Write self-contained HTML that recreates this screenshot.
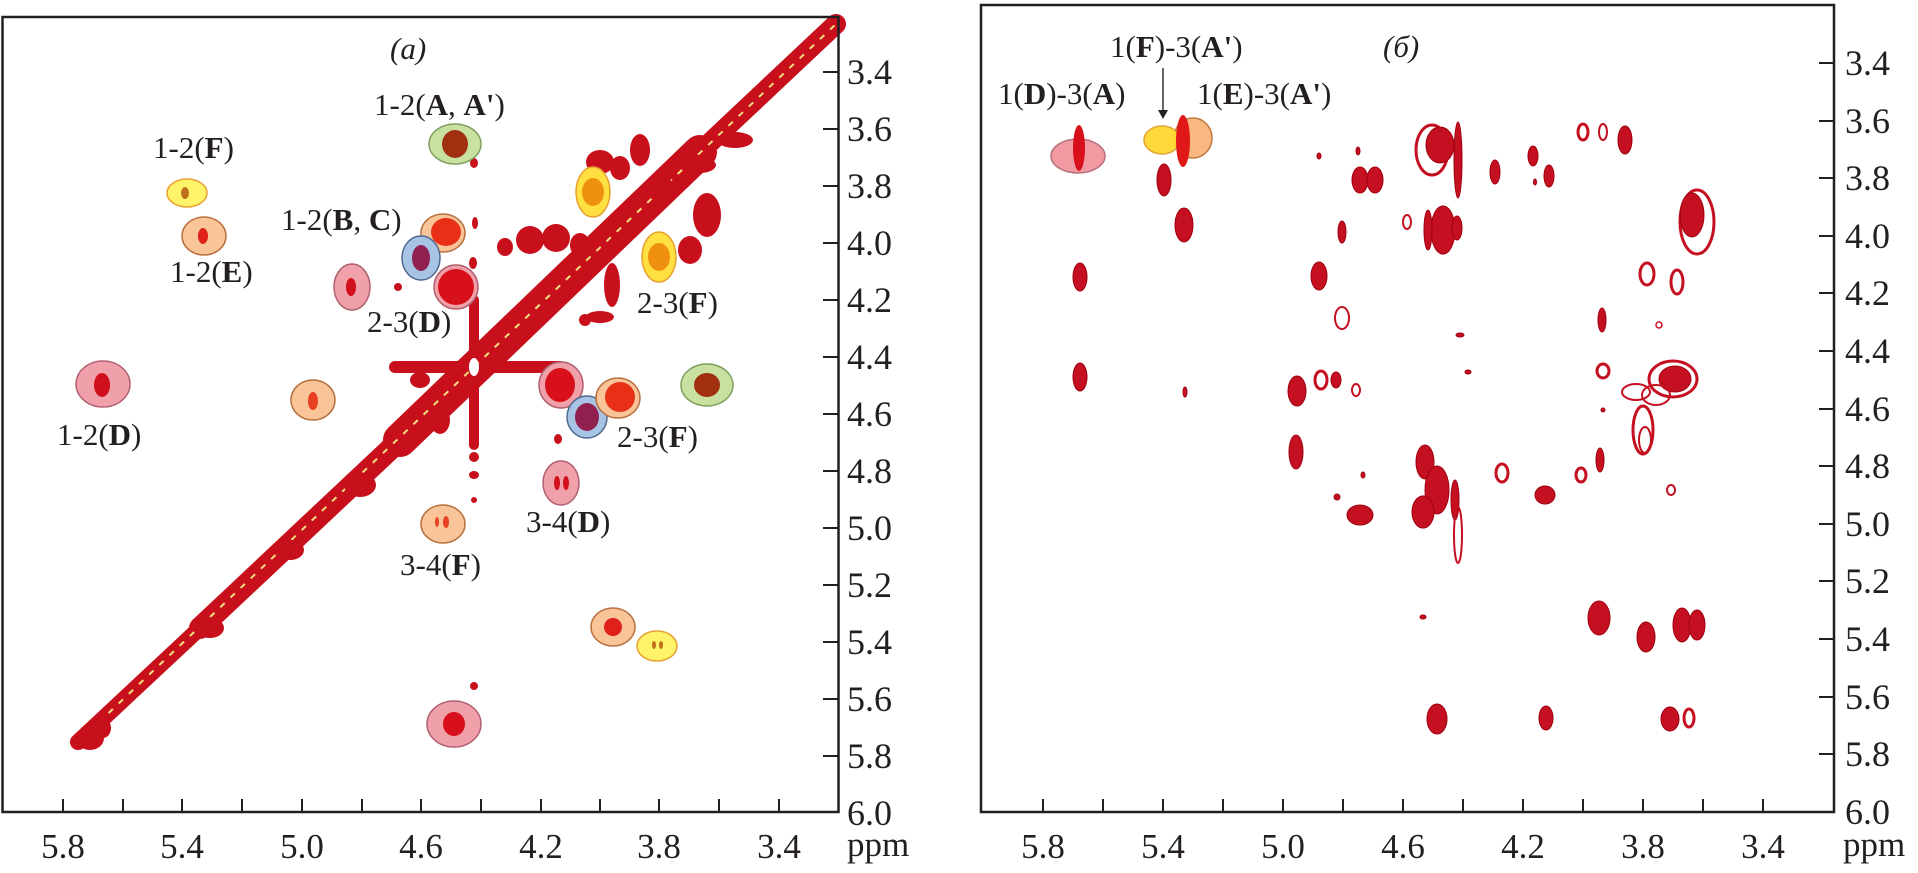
<!DOCTYPE html>
<html><head><meta charset="utf-8"><style>
html,body{margin:0;padding:0;background:#fff;}
svg{display:block;}
text{font-family:"Liberation Serif",serif;fill:#231f20;}
</style></head><body>
<svg width="1918" height="873" viewBox="0 0 1918 873" xmlns="http://www.w3.org/2000/svg">
<!-- ============ LEFT PANEL ============ -->
<g id="diag">
  <g stroke="#c8101c" stroke-linecap="round" fill="none">
    <line x1="78" y1="742" x2="200" y2="628" stroke-width="16"/>
    <line x1="200" y1="628" x2="400" y2="440" stroke-width="22"/>
    <line x1="400" y1="440" x2="700" y2="152" stroke-width="34"/>
    <line x1="700" y1="152" x2="836" y2="24" stroke-width="20"/>
    <line x1="395" y1="367" x2="560" y2="367" stroke-width="12"/>
    <line x1="474" y1="300" x2="474" y2="445" stroke-width="10"/>
  </g>
  <line x1="78" y1="742" x2="836" y2="24" stroke="#f0e080" stroke-width="2" stroke-dasharray="6 8"/>
  <ellipse cx="474" cy="367" rx="5" ry="9" fill="#fff"/>
  <g fill="#c8101c">
    <ellipse cx="90" cy="738" rx="14" ry="12"/>
    <ellipse cx="103" cy="728" rx="8" ry="10"/>
    <ellipse cx="210" cy="628" rx="14" ry="10"/>
    <ellipse cx="290" cy="550" rx="14" ry="10"/>
    <ellipse cx="360" cy="485" rx="16" ry="12"/>
    <ellipse cx="474" cy="457" rx="5" ry="5"/>
    <ellipse cx="474" cy="475" rx="5" ry="4"/>
    <ellipse cx="474" cy="500" rx="3" ry="3"/>
    <ellipse cx="474" cy="686" rx="4" ry="4"/>
    <ellipse cx="474" cy="163" rx="4" ry="5"/>
    <ellipse cx="475" cy="223" rx="3" ry="6"/>
    <ellipse cx="473" cy="263" rx="4" ry="6"/>
    <ellipse cx="398" cy="287" rx="4" ry="4"/>
    <ellipse cx="558" cy="439" rx="4" ry="5"/>
    <ellipse cx="600" cy="162" rx="14" ry="12"/>
    <ellipse cx="620" cy="168" rx="10" ry="12"/>
    <ellipse cx="640" cy="150" rx="10" ry="16"/>
    <ellipse cx="530" cy="240" rx="14" ry="14"/>
    <ellipse cx="556" cy="238" rx="14" ry="14"/>
    <ellipse cx="505" cy="247" rx="8" ry="9"/>
    <ellipse cx="580" cy="245" rx="10" ry="12"/>
    <ellipse cx="707" cy="215" rx="14" ry="22"/>
    <ellipse cx="690" cy="250" rx="12" ry="14"/>
    <ellipse cx="612" cy="285" rx="8" ry="22"/>
    <ellipse cx="600" cy="317" rx="14" ry="6"/>
    <ellipse cx="585" cy="320" rx="6" ry="6"/>
    <ellipse cx="665" cy="190" rx="10" ry="12"/>
    <ellipse cx="700" cy="165" rx="16" ry="8"/>
    <ellipse cx="735" cy="140" rx="18" ry="8"/>
    <ellipse cx="420" cy="380" rx="10" ry="8"/>
    <ellipse cx="440" cy="420" rx="10" ry="14"/>
  </g>
</g>
<g stroke-width="1.5">
  <ellipse cx="187" cy="193" rx="20" ry="14" fill="#fff36a" stroke="#e8a030"/>
  <ellipse cx="185" cy="193" rx="4" ry="6" fill="#c0701c"/>
  <ellipse cx="204" cy="236" rx="22" ry="19" fill="#f8c498" stroke="#b87040"/>
  <ellipse cx="203" cy="236" rx="5" ry="8" fill="#e0201a"/>
  <ellipse cx="103" cy="384" rx="27" ry="23" fill="#f0a0a8" stroke="#b06070"/>
  <ellipse cx="102" cy="385" rx="8" ry="12" fill="#d0101c"/>
  <ellipse cx="352" cy="287" rx="18" ry="23" fill="#f0a0a8" stroke="#b06070"/>
  <ellipse cx="351" cy="287" rx="5" ry="9" fill="#d0101c"/>
  <ellipse cx="313" cy="400" rx="22" ry="20" fill="#f8c498" stroke="#b87040"/>
  <ellipse cx="313" cy="401" rx="5" ry="9" fill="#e84020"/>
  <ellipse cx="455" cy="144" rx="26" ry="20" fill="#c8e0a0" stroke="#80a060"/>
  <ellipse cx="455" cy="144" rx="13" ry="14" fill="#a03010"/>
  <ellipse cx="443" cy="233" rx="22" ry="19" fill="#f8c498" stroke="#b87040"/>
  <ellipse cx="446" cy="232" rx="15" ry="14" fill="#e83018"/>
  <ellipse cx="421" cy="258" rx="19" ry="22" fill="#a8c4e4" stroke="#506890"/>
  <ellipse cx="421" cy="258" rx="9" ry="13" fill="#902050"/>
  <ellipse cx="456" cy="287" rx="22" ry="22" fill="#f0a0a8" stroke="#b06070"/>
  <ellipse cx="456" cy="287" rx="18" ry="18" fill="#d8101c"/>
  <ellipse cx="593" cy="192" rx="17" ry="25" fill="#ffe040" stroke="#e8a030"/>
  <ellipse cx="593" cy="192" rx="11" ry="14" fill="#f09010"/>
  <ellipse cx="659" cy="257" rx="17" ry="25" fill="#ffe040" stroke="#e8a030"/>
  <ellipse cx="659" cy="257" rx="11" ry="14" fill="#f09010"/>
  <ellipse cx="561" cy="385" rx="22" ry="23" fill="#f0a0a8" stroke="#b06070"/>
  <ellipse cx="560" cy="385" rx="15" ry="17" fill="#d8101c"/>
  <ellipse cx="587" cy="417" rx="20" ry="21" fill="#a8c4e4" stroke="#506890"/>
  <ellipse cx="587" cy="417" rx="12" ry="14" fill="#902050"/>
  <ellipse cx="618" cy="398" rx="22" ry="20" fill="#f8c498" stroke="#b87040"/>
  <ellipse cx="620" cy="397" rx="15" ry="15" fill="#e83018"/>
  <ellipse cx="707" cy="385" rx="26" ry="21" fill="#c8e0a0" stroke="#80a060"/>
  <ellipse cx="707" cy="385" rx="13" ry="12" fill="#a03010"/>
  <ellipse cx="561" cy="483" rx="18" ry="22" fill="#f0a0a8" stroke="#b06070"/>
  <ellipse cx="557" cy="483" rx="3" ry="7" fill="#d0101c"/>
  <ellipse cx="566" cy="483" rx="3" ry="7" fill="#d0101c"/>
  <ellipse cx="443" cy="524" rx="22" ry="19" fill="#f8c498" stroke="#b87040"/>
  <ellipse cx="437" cy="522" rx="2" ry="5" fill="#e84020"/>
  <ellipse cx="446" cy="522" rx="3" ry="6" fill="#e84020"/>
  <ellipse cx="613" cy="627" rx="22" ry="19" fill="#f8c498" stroke="#b87040"/>
  <ellipse cx="613" cy="627" rx="9" ry="9" fill="#e0201a"/>
  <ellipse cx="657" cy="646" rx="20" ry="15" fill="#fff36a" stroke="#e8a030"/>
  <ellipse cx="654" cy="645" rx="2" ry="4" fill="#c0701c"/>
  <ellipse cx="661" cy="645" rx="2" ry="4" fill="#c0701c"/>
  <ellipse cx="454" cy="724" rx="27" ry="23" fill="#f0a0a8" stroke="#b06070"/>
  <ellipse cx="454" cy="724" rx="11" ry="12" fill="#d8101c"/>
</g>
<g font-size="31">
  <text x="390" y="59" font-style="italic">(a)</text>
  <text x="374" y="115">1-2(<tspan font-weight="bold">A</tspan>, <tspan font-weight="bold">A'</tspan>)</text>
  <text x="153" y="158">1-2(<tspan font-weight="bold">F</tspan>)</text>
  <text x="281" y="230">1-2(<tspan font-weight="bold">B</tspan>, <tspan font-weight="bold">C</tspan>)</text>
  <text x="170" y="282">1-2(<tspan font-weight="bold">E</tspan>)</text>
  <text x="367" y="332">2-3(<tspan font-weight="bold">D</tspan>)</text>
  <text x="637" y="313">2-3(<tspan font-weight="bold">F</tspan>)</text>
  <text x="57" y="445">1-2(<tspan font-weight="bold">D</tspan>)</text>
  <text x="617" y="447">2-3(<tspan font-weight="bold">F</tspan>)</text>
  <text x="526" y="532">3-4(<tspan font-weight="bold">D</tspan>)</text>
  <text x="400" y="575">3-4(<tspan font-weight="bold">F</tspan>)</text>
</g>
<rect x="2.5" y="17" width="836" height="795" fill="none" stroke="#231f20" stroke-width="2.5"/>
<g stroke="#231f20" stroke-width="2">
  <line x1="63" y1="812" x2="63" y2="799"/><line x1="123" y1="812" x2="123" y2="799"/>
  <line x1="182" y1="812" x2="182" y2="799"/><line x1="242" y1="812" x2="242" y2="799"/>
  <line x1="302" y1="812" x2="302" y2="799"/><line x1="362" y1="812" x2="362" y2="799"/>
  <line x1="421" y1="812" x2="421" y2="799"/><line x1="481" y1="812" x2="481" y2="799"/>
  <line x1="541" y1="812" x2="541" y2="799"/><line x1="600" y1="812" x2="600" y2="799"/>
  <line x1="659" y1="812" x2="659" y2="799"/><line x1="719" y1="812" x2="719" y2="799"/>
  <line x1="779" y1="812" x2="779" y2="799"/>
  <line x1="838" y1="72" x2="823" y2="72"/><line x1="838" y1="129" x2="823" y2="129"/>
  <line x1="838" y1="186" x2="823" y2="186"/><line x1="838" y1="243" x2="823" y2="243"/>
  <line x1="838" y1="300" x2="823" y2="300"/><line x1="838" y1="357" x2="823" y2="357"/>
  <line x1="838" y1="414" x2="823" y2="414"/><line x1="838" y1="471" x2="823" y2="471"/>
  <line x1="838" y1="528" x2="823" y2="528"/><line x1="838" y1="585" x2="823" y2="585"/>
  <line x1="838" y1="642" x2="823" y2="642"/><line x1="838" y1="699" x2="823" y2="699"/>
  <line x1="838" y1="756" x2="823" y2="756"/>
</g>
<g font-size="35" text-anchor="middle">
  <text x="63" y="858">5.8</text><text x="182" y="858">5.4</text><text x="302" y="858">5.0</text>
  <text x="421" y="858">4.6</text><text x="541" y="858">4.2</text><text x="659" y="858">3.8</text>
  <text x="779" y="858">3.4</text>
</g>
<text x="847" y="856" font-size="35">ppm</text>
<g font-size="36">
  <text x="847" y="84">3.4</text><text x="847" y="141">3.6</text><text x="847" y="198">3.8</text>
  <text x="847" y="255">4.0</text><text x="847" y="312">4.2</text><text x="847" y="369">4.4</text>
  <text x="847" y="426">4.6</text><text x="847" y="483">4.8</text><text x="847" y="540">5.0</text>
  <text x="847" y="597">5.2</text><text x="847" y="654">5.4</text><text x="847" y="711">5.6</text>
  <text x="847" y="768">5.8</text><text x="847" y="825">6.0</text>
</g>

<!-- ============ RIGHT PANEL ============ -->
<g stroke-width="1.5">
  <ellipse cx="1078" cy="156" rx="27" ry="17" fill="#f09098" stroke="#b06070" opacity="0.9"/>
  <ellipse cx="1079" cy="148" rx="6" ry="23" fill="#d8101c"/>
  <ellipse cx="1193" cy="138" rx="19" ry="20" fill="#f8b880" stroke="#c07840"/>
  <ellipse cx="1162" cy="140" rx="18" ry="14" fill="#ffd830" stroke="#e0a030" opacity="0.95"/>
  <ellipse cx="1183" cy="141" rx="7" ry="26" fill="#e01818"/>
</g>
<g stroke="#333" stroke-width="1.5"><line x1="1163" y1="68" x2="1163" y2="112"/></g>
<polygon points="1158,110 1168,110 1163,119" fill="#222"/>
<g fill="#c41020" stroke="#a00010" stroke-width="1">
  <ellipse cx="1164" cy="180" rx="7" ry="16"/>
  <ellipse cx="1184" cy="225" rx="9" ry="17"/>
  <ellipse cx="1080" cy="277" rx="7" ry="14"/>
  <ellipse cx="1080" cy="377" rx="7" ry="14"/>
  <ellipse cx="1185" cy="392" rx="2" ry="5"/>
  <ellipse cx="1319" cy="156" rx="2" ry="3"/>
  <ellipse cx="1358" cy="151" rx="2" ry="4"/>
  <ellipse cx="1360" cy="180" rx="8" ry="13"/>
  <ellipse cx="1375" cy="180" rx="8" ry="13"/>
  <ellipse cx="1342" cy="232" rx="4" ry="11"/>
  <ellipse cx="1319" cy="276" rx="8" ry="14"/>
  <ellipse cx="1342" cy="318" rx="7" ry="11" fill="none" stroke="#c41020" stroke-width="2"/>
  <ellipse cx="1297" cy="391" rx="9" ry="15"/>
  <ellipse cx="1321" cy="380" rx="6" ry="9" fill="none" stroke="#c41020" stroke-width="3"/>
  <ellipse cx="1336" cy="380" rx="5" ry="8"/>
  <ellipse cx="1356" cy="390" rx="4" ry="6" fill="none" stroke="#c41020" stroke-width="2"/>
  <ellipse cx="1296" cy="452" rx="7" ry="17"/>
  <ellipse cx="1363" cy="475" rx="2" ry="3"/>
  <ellipse cx="1337" cy="497" rx="3" ry="3"/>
  <ellipse cx="1360" cy="515" rx="13" ry="10"/>
  <ellipse cx="1423" cy="512" rx="10" ry="16"/>
  <ellipse cx="1423" cy="617" rx="3" ry="2"/>
  <ellipse cx="1437" cy="719" rx="10" ry="15"/>
  <ellipse cx="1432" cy="150" rx="16" ry="25" fill="none" stroke="#c41020" stroke-width="3"/>
  <ellipse cx="1440" cy="145" rx="14" ry="18"/>
  <ellipse cx="1458" cy="160" rx="4" ry="38"/>
  <ellipse cx="1443" cy="230" rx="12" ry="24"/>
  <ellipse cx="1457" cy="228" rx="5" ry="12"/>
  <ellipse cx="1428" cy="230" rx="4" ry="20"/>
  <ellipse cx="1407" cy="222" rx="4" ry="7" fill="none" stroke="#c41020" stroke-width="2"/>
  <ellipse cx="1425" cy="462" rx="9" ry="17"/>
  <ellipse cx="1437" cy="490" rx="12" ry="24"/>
  <ellipse cx="1455" cy="500" rx="4" ry="20"/>
  <ellipse cx="1458" cy="535" rx="4" ry="28" fill="none" stroke="#c41020" stroke-width="2"/>
  <ellipse cx="1423" cy="512" rx="11" ry="16"/>
  <ellipse cx="1495" cy="172" rx="5" ry="12"/>
  <ellipse cx="1533" cy="156" rx="5" ry="10"/>
  <ellipse cx="1549" cy="176" rx="5" ry="11"/>
  <ellipse cx="1535" cy="182" rx="1.5" ry="3"/>
  <ellipse cx="1583" cy="132" rx="5" ry="8" fill="none" stroke="#c41020" stroke-width="3"/>
  <ellipse cx="1603" cy="132" rx="4" ry="8" fill="none" stroke="#c41020" stroke-width="2"/>
  <ellipse cx="1625" cy="140" rx="7" ry="14"/>
  <ellipse cx="1697" cy="222" rx="17" ry="32" fill="none" stroke="#c41020" stroke-width="3"/>
  <ellipse cx="1692" cy="215" rx="12" ry="22"/>
  <ellipse cx="1647" cy="274" rx="7" ry="11" fill="none" stroke="#c41020" stroke-width="3"/>
  <ellipse cx="1677" cy="282" rx="6" ry="12" fill="none" stroke="#c41020" stroke-width="3"/>
  <ellipse cx="1602" cy="320" rx="4" ry="12"/>
  <ellipse cx="1659" cy="325" rx="3" ry="3" fill="none" stroke="#c41020" stroke-width="1.5"/>
  <ellipse cx="1460" cy="335" rx="4" ry="2"/>
  <ellipse cx="1603" cy="371" rx="6" ry="7" fill="none" stroke="#c41020" stroke-width="3"/>
  <ellipse cx="1468" cy="372" rx="3" ry="2"/>
  <ellipse cx="1673" cy="379" rx="24" ry="18" fill="none" stroke="#c41020" stroke-width="3"/>
  <ellipse cx="1675" cy="379" rx="16" ry="13"/>
  <ellipse cx="1643" cy="430" rx="10" ry="24" fill="none" stroke="#c41020" stroke-width="3"/>
  <ellipse cx="1645" cy="440" rx="6" ry="13" fill="none" stroke="#c41020" stroke-width="2"/>
  <ellipse cx="1636" cy="392" rx="14" ry="8" fill="none" stroke="#c41020" stroke-width="2"/>
  <ellipse cx="1656" cy="395" rx="14" ry="10" fill="none" stroke="#c41020" stroke-width="2"/>
  <ellipse cx="1603" cy="410" rx="2" ry="2"/>
  <ellipse cx="1600" cy="460" rx="4" ry="12"/>
  <ellipse cx="1581" cy="475" rx="5" ry="7" fill="none" stroke="#c41020" stroke-width="3"/>
  <ellipse cx="1502" cy="473" rx="6" ry="9" fill="none" stroke="#c41020" stroke-width="3"/>
  <ellipse cx="1545" cy="495" rx="10" ry="9"/>
  <ellipse cx="1671" cy="490" rx="4" ry="5" fill="none" stroke="#c41020" stroke-width="2"/>
  <ellipse cx="1599" cy="618" rx="11" ry="17"/>
  <ellipse cx="1646" cy="637" rx="9" ry="15"/>
  <ellipse cx="1682" cy="625" rx="9" ry="17"/>
  <ellipse cx="1697" cy="625" rx="8" ry="15"/>
  <ellipse cx="1546" cy="718" rx="7" ry="12"/>
  <ellipse cx="1670" cy="719" rx="9" ry="12"/>
  <ellipse cx="1689" cy="718" rx="5" ry="9" fill="none" stroke="#c41020" stroke-width="3"/>
</g>
<g font-size="31">
  <text x="1383" y="57" font-style="italic">(б)</text>
  <text x="1110" y="57">1(<tspan font-weight="bold">F</tspan>)-3(<tspan font-weight="bold">A'</tspan>)</text>
  <text x="998" y="104">1(<tspan font-weight="bold">D</tspan>)-3(<tspan font-weight="bold">A</tspan>)</text>
  <text x="1197" y="104">1(<tspan font-weight="bold">E</tspan>)-3(<tspan font-weight="bold">A'</tspan>)</text>
</g>
<rect x="981" y="5" width="853" height="807" fill="none" stroke="#231f20" stroke-width="2.5"/>
<g stroke="#231f20" stroke-width="2">
  <line x1="1043" y1="812" x2="1043" y2="799"/><line x1="1103" y1="812" x2="1103" y2="799"/>
  <line x1="1163" y1="812" x2="1163" y2="799"/><line x1="1223" y1="812" x2="1223" y2="799"/>
  <line x1="1283" y1="812" x2="1283" y2="799"/><line x1="1343" y1="812" x2="1343" y2="799"/>
  <line x1="1403" y1="812" x2="1403" y2="799"/><line x1="1463" y1="812" x2="1463" y2="799"/>
  <line x1="1523" y1="812" x2="1523" y2="799"/><line x1="1583" y1="812" x2="1583" y2="799"/>
  <line x1="1643" y1="812" x2="1643" y2="799"/><line x1="1703" y1="812" x2="1703" y2="799"/>
  <line x1="1763" y1="812" x2="1763" y2="799"/>
  <line x1="1834" y1="63" x2="1819" y2="63"/><line x1="1834" y1="121" x2="1819" y2="121"/>
  <line x1="1834" y1="178" x2="1819" y2="178"/><line x1="1834" y1="236" x2="1819" y2="236"/>
  <line x1="1834" y1="293" x2="1819" y2="293"/><line x1="1834" y1="351" x2="1819" y2="351"/>
  <line x1="1834" y1="409" x2="1819" y2="409"/><line x1="1834" y1="466" x2="1819" y2="466"/>
  <line x1="1834" y1="524" x2="1819" y2="524"/><line x1="1834" y1="581" x2="1819" y2="581"/>
  <line x1="1834" y1="639" x2="1819" y2="639"/><line x1="1834" y1="697" x2="1819" y2="697"/>
  <line x1="1834" y1="754" x2="1819" y2="754"/>
</g>
<g font-size="35" text-anchor="middle">
  <text x="1043" y="858">5.8</text><text x="1163" y="858">5.4</text><text x="1283" y="858">5.0</text>
  <text x="1403" y="858">4.6</text><text x="1523" y="858">4.2</text><text x="1643" y="858">3.8</text>
  <text x="1763" y="858">3.4</text>
</g>
<text x="1843" y="856" font-size="35">ppm</text>
<g font-size="36">
  <text x="1845" y="75">3.4</text><text x="1845" y="133">3.6</text><text x="1845" y="190">3.8</text>
  <text x="1845" y="248">4.0</text><text x="1845" y="305">4.2</text><text x="1845" y="363">4.4</text>
  <text x="1845" y="421">4.6</text><text x="1845" y="478">4.8</text><text x="1845" y="536">5.0</text>
  <text x="1845" y="593">5.2</text><text x="1845" y="651">5.4</text><text x="1845" y="709">5.6</text>
  <text x="1845" y="766">5.8</text><text x="1845" y="824">6.0</text>
</g>
</svg>
</body></html>
